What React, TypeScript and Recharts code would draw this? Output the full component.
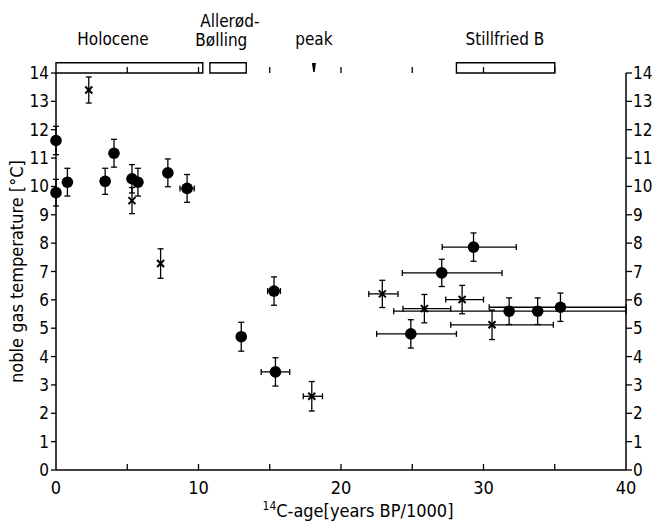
import React from "react";
import {
  ScatterChart,
  Scatter,
  XAxis,
  YAxis,
  ErrorBar,
  ReferenceArea,
  ReferenceDot,
  ReferenceLine,
} from "recharts";

const FONT = "'DejaVu Sans Condensed', 'Liberation Sans Narrow', 'DejaVu Sans', sans-serif";

// filled circles: age (ka BP), temperature (°C), errors ([low, high] or symmetric)
const circleAge = [0, 0, 0.8, 3.45, 4.07, 5.33, 5.75, 7.85, 9.2, 13.0, 15.3, 15.4, 24.9, 27.07, 29.3, 31.8, 33.8, 35.4];
const circleTemp = [11.62, 9.78, 10.15, 10.18, 11.17, 10.27, 10.15, 10.48, 9.93, 4.7, 6.31, 3.46, 4.8, 6.95, 7.86, 5.6, 5.6, 5.74];
const circleAgeErr = [null, null, null, null, null, null, null, 0.3, 0.5, null, 0.45, 1.0, [2.4, 3.2], [2.77, 4.23], [2.2, 3.0], [8.1, 8.2], null, [5.0, 4.6]];
const circleTempErr = [0.5, 0.47, 0.49, 0.46, 0.49, 0.5, 0.49, 0.49, 0.49, 0.51, 0.5, 0.5, 0.5, 0.48, 0.5, 0.47, 0.47, 0.5];

// crosses
const crossAge = [2.3, 5.33, 7.34, 17.95, 22.9, 25.85, 28.5, 30.6];
const crossTemp = [13.4, 9.5, 7.28, 2.6, 6.21, 5.69, 6.01, 5.12];
const crossAgeErr = [null, null, null, [0.6, 0.75], [0.95, 1.1], [1.5, 1.85], [1.15, 1.5], [2.9, 4.3]];
const crossTempErr = [0.46, 0.46, 0.52, 0.52, 0.48, 0.5, 0.5, 0.52];

// periods drawn as boxes on top of the frame
const periodFrom = [0, 10.8, 28.1];
const periodTo = [10.3, 13.35, 35.0];

// annotation texts above the frame
const annoText = ["Holocene", "Allerød-", "Bølling", "peak", "Stillfried B"];
const annoAge = [4.0, 12.2, 11.6, 18.1, 31.5];
const annoTemp = [15.2, 15.85, 15.15, 15.2, 15.2];

const peakAge = 18.1;

const xTicksBottom = [0, 5, 10, 15, 20, 25, 30, 35, 40];
const xTicksTop = [5, 10, 15, 20, 25, 30, 35];
const yTicks = [0, 1, 2, 3, 4, 5, 6, 7, 8, 9, 10, 11, 12, 13, 14];

const circles = circleAge.map((a, i) => ({
  age: a,
  temp: circleTemp[i],
  ex: circleAgeErr[i],
  ey: circleTempErr[i],
}));
const crosses = crossAge.map((a, i) => ({
  age: a,
  temp: crossTemp[i],
  ex: crossAgeErr[i],
  ey: crossTempErr[i],
}));

const CrossShape = (props: any) => {
  const { cx, cy } = props;
  if (cx == null || cy == null) return null;
  const s = 3.5;
  return (
    <g stroke="#000" strokeWidth={2}>
      <line x1={cx - s} y1={cy - s} x2={cx + s} y2={cy + s} />
      <line x1={cx - s} y1={cy + s} x2={cx + s} y2={cy - s} />
    </g>
  );
};

const CircleShape = (props: any) => {
  const { cx, cy } = props;
  if (cx == null || cy == null) return null;
  return <circle cx={cx} cy={cy} r={5.8} fill="#000" />;
};

const BottomTick = (props: any) => {
  const { x, y, payload } = props;
  const v = payload.value;
  return (
    <g>
      {v > 0 && v < 40 && (
        <line x1={x} y1={y} x2={x} y2={y - 6} stroke="#000" strokeWidth={1.3} />
      )}
      {v % 10 === 0 && (
        <text x={x} y={y + 24} textAnchor="middle" fontFamily={FONT} fontSize={18} fill="#000">
          {v}
        </text>
      )}
    </g>
  );
};

const PeakMark = (props: any) => {
  const { cx, cy } = props;
  if (cx == null || cy == null) return null;
  return (
    <polygon
      points={`${cx - 2},${cy - 10} ${cx + 2},${cy - 10} ${cx + 0.7},${cy - 1} ${cx - 0.7},${cy - 1}`}
      fill="#000"
    />
  );
};

const XLabel = (props: any) => {
  const { viewBox } = props;
  const cx = viewBox.x + viewBox.width / 2 + 17;
  return (
    <text x={cx} y={viewBox.y + 47} textAnchor="middle" fontFamily={FONT} fontSize={18} fill="#000">
      <tspan fontSize={12} dy={-7}>14</tspan>
      <tspan dy={7}>C-age[years BP/1000]</tspan>
    </text>
  );
};

const tickStyle = { fill: "#000", fontSize: 17, fontFamily: FONT };

export default function App() {
  return (
    <div style={{ width: 654, height: 521, background: "#fff" }}>
      <style>{"body{margin:0;background:#fff}"}</style>
      <ScatterChart width={654} height={521} margin={{ top: 73, right: 0, bottom: 0, left: 0 }}>
        <XAxis
          xAxisId="b"
          type="number"
          dataKey="age"
          domain={[0, 40]}
          ticks={xTicksBottom}
          interval={0}
          height={51}
          tickSize={0}
          tickMargin={0}
          tickLine={false}
          tick={<BottomTick />}
          axisLine={{ stroke: "#000", strokeWidth: 1.5 }}
          label={<XLabel />}
        />
        <XAxis
          xAxisId="t"
          orientation="top"
          type="number"
          domain={[0, 40]}
          allowDataOverflow
          height={0}
          tick={false}
          tickLine={false}
          axisLine={{ stroke: "#000", strokeWidth: 1.5 }}
        />
        <YAxis
          yAxisId="l"
          type="number"
          dataKey="temp"
          domain={[0, 14]}
          ticks={yTicks}
          interval={0}
          width={56}
          tickSize={5}
          tickMargin={2}
          tick={tickStyle}
          tickLine={{ stroke: "#000", strokeWidth: 1.3 }}
          axisLine={{ stroke: "#000", strokeWidth: 1.5 }}
          label={{
            value: "noble gas temperature [°C]",
            angle: -90,
            position: "center",
            dx: -11,
            style: { fill: "#000", fontSize: 18, fontFamily: FONT },
          }}
        />
        <YAxis
          yAxisId="r"
          orientation="right"
          type="number"
          domain={[0, 14]}
          allowDataOverflow
          ticks={yTicks}
          interval={0}
          width={28}
          tickSize={6}
          tickMargin={1}
          tick={tickStyle}
          tickLine={{ stroke: "#000", strokeWidth: 1.3 }}
          axisLine={{ stroke: "#000", strokeWidth: 1.5 }}
        />
        {xTicksTop.map((t) => (
          <ReferenceLine
            key={"t" + t}
            xAxisId="b"
            yAxisId="l"
            segment={[
              { x: t, y: 14 },
              { x: t, y: 14.21 },
            ]}
            ifOverflow="visible"
            stroke="#000"
            strokeWidth={1.3}
          />
        ))}
        {periodFrom.map((f, i) => (
          <ReferenceArea
            key={"p" + i}
            xAxisId="b"
            yAxisId="l"
            x1={f}
            x2={periodTo[i]}
            y1={14}
            y2={14.36}
            ifOverflow="visible"
            fill="none"
            stroke="#000"
            strokeWidth={1.4}
          />
        ))}
        {annoText.map((t, i) => (
          <ReferenceDot
            key={"a" + i}
            xAxisId="b"
            yAxisId="l"
            x={annoAge[i]}
            y={annoTemp[i]}
            ifOverflow="visible"
            shape={(p: any) => (
              <text
                x={p.cx}
                y={p.cy + 6}
                textAnchor="middle"
                fontFamily={FONT}
                fontSize={17}
                fill="#000"
              >
                {t}
              </text>
            )}
          />
        ))}
        <ReferenceDot
          xAxisId="b"
          yAxisId="l"
          x={peakAge}
          y={14}
          ifOverflow="visible"
          shape={<PeakMark />}
        />
        <Scatter
          xAxisId="b"
          yAxisId="l"
          data={circles}
          shape={<CircleShape />}
          isAnimationActive={false}
        >
          <ErrorBar dataKey="ey" direction="y" width={3} stroke="#000" strokeWidth={1.3} />
          <ErrorBar dataKey="ex" direction="x" width={3} stroke="#000" strokeWidth={1.3} />
        </Scatter>
        <Scatter
          xAxisId="b"
          yAxisId="l"
          data={crosses}
          shape={<CrossShape />}
          isAnimationActive={false}
        >
          <ErrorBar dataKey="ey" direction="y" width={3} stroke="#000" strokeWidth={1.3} />
          <ErrorBar dataKey="ex" direction="x" width={3} stroke="#000" strokeWidth={1.3} />
        </Scatter>
      </ScatterChart>
    </div>
  );
}
